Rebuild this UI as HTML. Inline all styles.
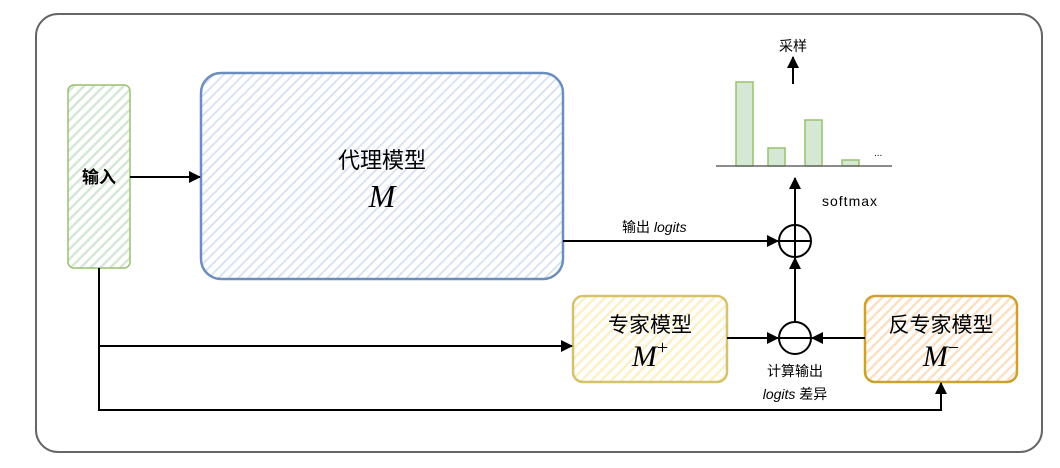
<!DOCTYPE html>
<html><head><meta charset="utf-8"><style>
html,body{margin:0;padding:0;background:#fff;}
svg{display:block;font-family:"Liberation Sans","Noto Sans CJK SC",sans-serif;}
</style></head><body>
<svg width="1060" height="468" viewBox="0 0 1060 468" xmlns="http://www.w3.org/2000/svg">
<defs>
<pattern id="hg" width="7" height="7" patternUnits="userSpaceOnUse" patternTransform="rotate(45)"><rect width="7" height="7" fill="#fff"/><rect width="2.5" height="7" fill="#d5e8d4"/></pattern>
<pattern id="hb" width="7" height="7" patternUnits="userSpaceOnUse" patternTransform="rotate(45)"><rect width="7" height="7" fill="#fff"/><rect width="2" height="7" fill="#dae3f3"/></pattern>
<pattern id="hy" width="7" height="7" patternUnits="userSpaceOnUse" patternTransform="rotate(45)"><rect width="7" height="7" fill="#fff"/><rect width="2.5" height="7" fill="#fbf0c8"/></pattern>
<pattern id="ho" width="7" height="7" patternUnits="userSpaceOnUse" patternTransform="rotate(45)"><rect width="7" height="7" fill="#fff"/><rect width="2.5" height="7" fill="#fbe0c4"/></pattern>
<marker id="a" markerWidth="12" markerHeight="12" refX="11" refY="6" orient="auto" markerUnits="userSpaceOnUse"><path d="M0,0 L12,6 L0,12 Z" fill="#000"/></marker>
</defs>
<rect x="36" y="14" width="1006" height="438" rx="22" fill="none" stroke="#666" stroke-width="2"/>
<rect x="68" y="85" width="62" height="183" rx="6" fill="url(#hg)" stroke="#97c06e" stroke-width="1.5"/>
<text x="99" y="183" font-size="17" text-anchor="middle" font-weight="bold">输入</text>
<rect x="201" y="73" width="362" height="206" rx="20" fill="url(#hb)" stroke="#6c8ebf" stroke-width="2.5"/>
<text x="382" y="168" font-size="22" text-anchor="middle">代理模型</text>
<text x="382" y="207" font-size="32" text-anchor="middle" font-family="Liberation Serif,serif" font-style="italic">M</text>
<rect x="573" y="296" width="154" height="86" rx="10" fill="url(#hy)" stroke="#d6c26a" stroke-width="2.5"/>
<text x="650" y="332" font-size="21" text-anchor="middle">专家模型</text>
<text x="650" y="366" font-size="30" text-anchor="middle" font-family="Liberation Serif,serif" font-style="italic">M<tspan font-style="normal" font-size="20" dy="-12">+</tspan></text>
<rect x="865" y="296" width="152" height="86" rx="10" fill="url(#ho)" stroke="#c9a230" stroke-width="2.5"/>
<text x="941" y="332" font-size="21" text-anchor="middle">反专家模型</text>
<text x="941" y="366" font-size="30" text-anchor="middle" font-family="Liberation Serif,serif" font-style="italic">M<tspan font-style="normal" font-size="20" dy="-12">−</tspan></text>
<g stroke="#000" stroke-width="2" fill="none">
<line x1="130" y1="177" x2="200" y2="177" marker-end="url(#a)"/>
<line x1="563" y1="241" x2="778" y2="241" marker-end="url(#a)"/>
<circle cx="795" cy="241" r="16"/><line x1="779" y1="241" x2="811" y2="241"/><line x1="795" y1="225" x2="795" y2="257"/>
<circle cx="795" cy="338" r="16"/><line x1="779" y1="338" x2="811" y2="338"/>
<line x1="727" y1="338" x2="778" y2="338" marker-end="url(#a)"/>
<line x1="865" y1="338" x2="812" y2="338" marker-end="url(#a)"/>
<line x1="795" y1="322" x2="795" y2="258" marker-end="url(#a)"/>
<line x1="795" y1="225" x2="795" y2="178" marker-end="url(#a)"/>
<line x1="793" y1="84" x2="793" y2="57" marker-end="url(#a)"/>
<polyline points="99,268 99,410 941,410 941,383" marker-end="url(#a)"/>
<line x1="99" y1="346" x2="572" y2="346" marker-end="url(#a)"/>
</g>
<g fill="#d5e8d4" stroke="#97c06e" stroke-width="1.5">
<rect x="736" y="82" width="17" height="84"/>
<rect x="768" y="148" width="17" height="18"/>
<rect x="805" y="120" width="17" height="46"/>
<rect x="842" y="160" width="17" height="6"/>
</g>
<line x1="716" y1="166" x2="892" y2="166" stroke="#666" stroke-width="1.5"/>
<text x="874" y="156" font-size="10">...</text>
<text x="793" y="51" font-size="14" text-anchor="middle">采样</text>
<text x="822" y="206" font-size="14" letter-spacing="1">softmax</text>
<text x="622" y="232" font-size="14">输出 <tspan font-style="italic">logits</tspan></text>
<text x="795" y="376" font-size="14" text-anchor="middle">计算输出</text>
<text x="795" y="399" font-size="14" text-anchor="middle"><tspan font-style="italic">logits</tspan> 差异</text>
</svg>
</body></html>
